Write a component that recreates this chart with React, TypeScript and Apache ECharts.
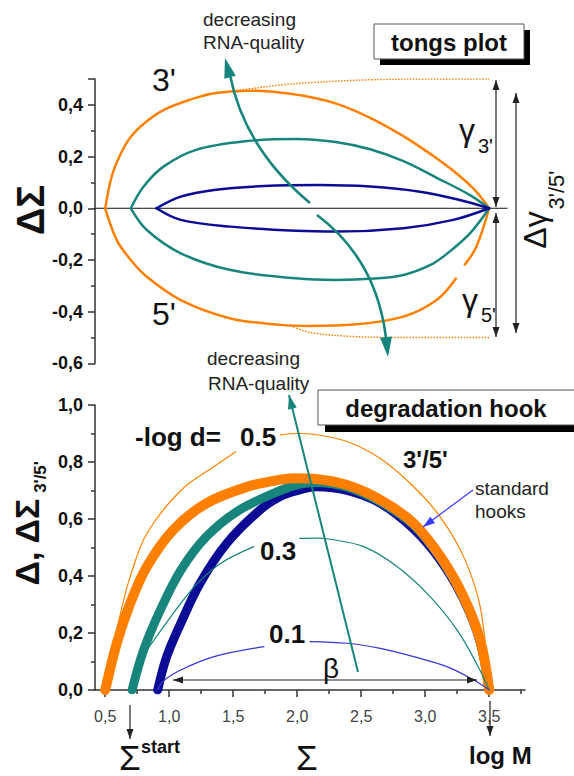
import React, { useEffect, useRef } from 'react';
import * as echarts from 'echarts';

const FONT = '"Liberation Sans", Arial, sans-serif';
const ORANGE = '#FF8000';
const TEAL = '#17857B';
const NAVY = '#0B0B96';
const THINBLUE = '#3535D0';
const INK = '#111';

// ---------- top panel: tongs plot (x = Sigma, y = Delta Sigma) ----------
const tongsOrange3: any[] = [[0.5, 0], [0.55, 0.122], [0.62, 0.21], [0.7, 0.277], [0.82, 0.335], [0.955, 0.38], [1.15, 0.418], [1.35, 0.445], [1.61, 0.455], [1.79, 0.452], [2.05, 0.435], [2.31, 0.404], [2.57, 0.35], [2.83, 0.279], [3.05, 0.207], [3.22, 0.145], [3.38, 0.075], [3.5, 0]];
const tongsOrange5: any[] = [[0.5, 0], [0.59, -0.123], [0.7, -0.2], [0.825, -0.265], [1.09, -0.355], [1.48, -0.426], [1.87, -0.451], [2.1, -0.455], [2.44, -0.45], [2.83, -0.419], [3.09, -0.355], [3.24, -0.272], [3.27, '-'], [3.31, -0.218], [3.4, -0.149], [3.5, 0]];
const tongsOrangeEnv3: any[] = [[1.27, 0.44], [1.6, 0.46], [1.87, 0.477], [2.1, 0.486], [2.57, 0.497], [3.0, 0.5], [3.5, 0.5]];
const tongsOrangeEnv5: any[] = [[1.95, -0.455], [2.1, -0.48], [2.4, -0.495], [2.8, -0.5], [3.5, -0.5]];
const tongsTeal3: any[] = [[0.7, 0], [0.8, 0.084], [0.955, 0.161], [1.21, 0.226], [1.61, 0.26], [1.99, 0.268], [2.3, 0.256], [2.57, 0.228], [2.83, 0.182], [3.09, 0.118], [3.35, 0.051], [3.5, 0]];
const tongsTeal5: any[] = [[0.7, 0], [0.825, -0.084], [1.09, -0.174], [1.48, -0.239], [1.99, -0.271], [2.3, -0.277], [2.6, -0.272], [2.83, -0.258], [3.05, -0.217], [3.17, -0.176], [3.35, -0.097], [3.5, 0]];
const tongsNavy3: any[] = [[0.9, 0], [1.09, 0.045], [1.35, 0.071], [1.74, 0.086], [2.18, 0.09], [2.57, 0.084], [2.96, 0.064], [3.27, 0.032], [3.5, 0]];
const tongsNavy5: any[] = [[0.9, 0], [1.09, -0.045], [1.48, -0.071], [1.99, -0.087], [2.31, -0.09], [2.83, -0.077], [3.22, -0.045], [3.5, 0]];
const zeroLine: any[] = [[0.42, 0], [3.64, 0]];

// ---------- bottom panel: degradation hook ----------
const hookOrange: any[] = [[0.5, 0], [0.59, 0.164], [0.695, 0.304], [0.826, 0.433], [1.03, 0.561], [1.29, 0.655], [1.61, 0.713], [1.87, 0.738], [2.0, 0.743], [2.13, 0.741], [2.39, 0.719], [2.65, 0.667], [2.91, 0.585], [3.12, 0.468], [3.3, 0.327], [3.43, 0.175], [3.5, 0]];
const hookTeal: any[] = [[0.71, 0], [0.8, 0.14], [0.93, 0.28], [1.09, 0.42], [1.29, 0.538], [1.55, 0.632], [1.87, 0.7], [2.02, 0.722], [2.13, 0.728], [2.39, 0.712], [2.65, 0.66], [2.91, 0.578], [3.12, 0.462], [3.3, 0.322], [3.43, 0.172], [3.5, 0]];
const hookNavy: any[] = [[0.91, 0], [0.98, 0.117], [1.09, 0.234], [1.24, 0.374], [1.45, 0.515], [1.71, 0.632], [1.87, 0.68], [2.02, 0.702], [2.15, 0.713], [2.39, 0.7], [2.65, 0.655], [2.91, 0.565], [3.12, 0.455], [3.3, 0.318], [3.43, 0.168], [3.5, 0]];
const logD05: any[] = [[0.5, 0], [0.55, 0.13], [0.62, 0.27], [0.695, 0.398], [0.826, 0.55], [1.09, 0.7], [1.35, 0.784], [1.52, 0.836], [1.7, '-'], [1.87, 0.895], [2.0, 0.9], [2.13, 0.897], [2.39, 0.872], [2.65, 0.812], [2.91, 0.713], [3.12, 0.606], [3.3, 0.468], [3.43, 0.292], [3.5, 0]];
const logD03: any[] = [[0.7, 0], [0.8, 0.12], [0.9, 0.187], [1.09, 0.304], [1.22, 0.374], [1.4, 0.444], [1.66, 0.503], [1.85, '-'], [2.02, 0.532], [2.14, 0.533], [2.26, 0.529], [2.52, 0.503], [2.78, 0.433], [3.04, 0.327], [3.25, 0.21], [3.4, 0.094], [3.5, 0]];
const logD01: any[] = [[0.91, 0], [0.95, 0.03], [1.09, 0.07], [1.35, 0.117], [1.74, 0.152], [1.9, '-'], [2.1, 0.17], [2.39, 0.164], [2.65, 0.146], [2.91, 0.117], [3.17, 0.082], [3.38, 0.035], [3.5, 0]];

const xMajor = [0.5, 1.0, 1.5, 2.0, 2.5, 3.0, 3.5];
const xMinor = [0.75, 1.25, 1.75, 2.25, 2.75, 3.25, 3.75];

const comma = (v: number) => {
  const t = Math.abs(v) < 1e-9 ? 0 : v;
  return t.toFixed(1).replace('.', ',');
};

function line(data: any[], gi: number, color: string, width: number, extra: any = {}) {
  return {
    type: 'line', xAxisIndex: gi === 0 ? 0 : 1, yAxisIndex: gi, data,
    symbol: 'none', showSymbol: false, smooth: 0.35, silent: true, connectNulls: false,
    lineStyle: { color, width, cap: 'round', join: 'round' }, z: 3, ...extra,
  };
}

function txt(text: string, x: number, y: number, size: number, opts: any = {}) {
  return {
    type: 'text', x, y, z: 120, rotation: opts.rotation || 0, silent: true,
    style: {
      text, fill: opts.fill || INK,
      font: `${opts.bold ? 'bold ' : ''}${size}px ${FONT}`,
      align: opts.align || 'left', verticalAlign: 'middle',
      textAlign: opts.align || 'left', textVerticalAlign: 'middle',
    },
  };
}

function seg(x1: number, y1: number, x2: number, y2: number, color: string, w: number) {
  return { type: 'line', z: 110, silent: true, shape: { x1, y1, x2, y2 }, style: { stroke: color, lineWidth: w } };
}

function head(tx: number, ty: number, fx: number, fy: number, len: number, hw: number, color: string) {
  const dx = tx - fx, dy = ty - fy;
  const L = Math.sqrt(dx * dx + dy * dy);
  const ux = dx / L, uy = dy / L;
  const bx = tx - ux * len, by = ty - uy * len;
  const px = -uy, py = ux;
  return {
    type: 'polygon', z: 111, silent: true,
    shape: { points: [[tx, ty], [bx + px * hw, by + py * hw], [bx - px * hw, by - py * hw]] },
    style: { fill: color },
  };
}

function dblArrow(x1: number, y1: number, x2: number, y2: number, color = '#222') {
  return [seg(x1, y1, x2, y2, color, 1.2), head(x1, y1, x2, y2, 10, 3.5, color), head(x2, y2, x1, y1, 10, 3.5, color)];
}

function arrow(x1: number, y1: number, x2: number, y2: number, color: string, w: number, len: number, hw: number) {
  return [seg(x1, y1, x2, y2, color, w), head(x2, y2, x1, y1, len, hw, color)];
}

const graphics: any[] = [
  // boxes
  { type: 'rect', z: 100, silent: true, shape: { x: 380, y: 30, width: 150, height: 35 }, style: { fill: '#000' } },
  { type: 'rect', z: 101, silent: true, shape: { x: 374, y: 24, width: 150, height: 35 }, style: { fill: '#fff', stroke: '#555', lineWidth: 1 } },
  txt('tongs plot', 449, 42, 24, { bold: true, align: 'center' }),
  { type: 'rect', z: 100, silent: true, shape: { x: 325, y: 397, width: 260, height: 35 }, style: { fill: '#000' } },
  { type: 'rect', z: 101, silent: true, shape: { x: 318, y: 390, width: 270, height: 35 }, style: { fill: '#fff', stroke: '#555', lineWidth: 1 } },
  txt('degradation hook', 446, 408, 24, { bold: true, align: 'center' }),

  // top panel texts
  txt('decreasing', 203, 19, 19, { fill: '#222' }),
  txt('RNA-quality', 203, 42, 19, { fill: '#222' }),
  txt('decreasing', 207, 358, 19, { fill: '#222' }),
  txt('RNA-quality', 208, 383, 19, { fill: '#222' }),
  txt("3'", 152, 80, 32),
  txt("5'", 152, 314, 32),
  txt('γ', 459, 130, 32),
  txt("3'", 478, 146, 20),
  txt('γ', 462, 300, 32),
  txt("5'", 481, 315, 20),
  txt('Δγ', 535, 230, 32, { align: 'center', rotation: Math.PI / 2 }),
  txt("3'/5'", 556, 190, 22, { align: 'center', rotation: Math.PI / 2 }),
  txt('ΔΣ', 31, 210, 38, { bold: true, align: 'center', rotation: Math.PI / 2 }),

  // top panel arrows
  ...dblArrow(496, 80, 496, 207),
  ...dblArrow(496, 213, 496, 337),
  ...dblArrow(516, 93, 516, 333),
  { type: 'bezierCurve', z: 110, silent: true, shape: { x1: 310, y1: 203, x2: 230, y2: 75, cpx1: 244.5, cpy1: 148.5 }, style: { stroke: TEAL, lineWidth: 2.6, fill: 'none' } },
  head(225, 58, 230, 77, 20, 6, TEAL),
  { type: 'bezierCurve', z: 110, silent: true, shape: { x1: 317, y1: 215, x2: 386, y2: 338, cpx1: 376.5, cpy1: 259.5 }, style: { stroke: TEAL, lineWidth: 2.6, fill: 'none' } },
  head(388, 357, 386, 337, 20, 6, TEAL),

  // bottom panel texts
  txt('-log d=', 135, 437, 26, { bold: true }),
  txt('0.5', 240, 437, 26, { bold: true }),
  txt("3'/5'", 403, 459, 24, { bold: true }),
  txt('standard', 475, 488, 19, { fill: '#222' }),
  txt('hooks', 475, 511, 19, { fill: '#222' }),
  txt('0.3', 260, 551, 26, { bold: true }),
  txt('0.1', 269, 634, 26, { bold: true }),
  txt('β', 323, 668, 28),
  txt('Σ', 119, 757, 35),
  txt('start', 141, 747, 18, { bold: true }),
  txt('Σ', 296, 757, 35),
  txt('log M', 469, 755, 24, { bold: true }),
  txt('Δ, ΔΣ', 27, 542, 34, { bold: true, align: 'center', rotation: Math.PI / 2 }),
  txt("3'/5'", 40, 477, 17, { bold: true, align: 'center', rotation: Math.PI / 2 }),

  // bottom panel arrows
  ...dblArrow(173, 680, 477, 680),
  ...arrow(130, 705, 130, 739, '#222', 1.2, 10, 3.5),
  ...arrow(490, 701, 490, 736, '#222', 1.2, 10, 3.5),
  ...arrow(473, 490, 423, 527, '#3a3aff', 1.2, 12, 4),
  ...arrow(358, 672, 289, 395, TEAL, 2, 14, 4.5),
];

const axisLineStyle = { color: '#333', width: 1.5 };

const option: any = {
  animation: false,
  backgroundColor: '#fff',
  grid: [
    { left: 95, top: 79, width: 430, height: 284.4 },
    { left: 95, top: 405, width: 430, height: 285 },
  ],
  xAxis: [
    { gridIndex: 0, type: 'value', min: 0.42, max: 3.78, show: false },
    {
      gridIndex: 1, type: 'value', min: 0.42, max: 3.78, position: 'bottom',
      axisLine: { show: true, onZero: false, lineStyle: axisLineStyle },
      splitLine: { show: false },
      axisTick: { show: true, customValues: xMajor, length: 7, lineStyle: axisLineStyle },
      axisLabel: { customValues: xMajor, formatter: (v: number) => comma(v), margin: 18, fontSize: 16, color: '#444', fontFamily: FONT },
    },
    {
      gridIndex: 1, type: 'value', min: 0.42, max: 3.78, position: 'bottom',
      axisLine: { show: false }, splitLine: { show: false }, axisLabel: { show: false },
      axisTick: { show: true, customValues: xMinor, length: 4, lineStyle: axisLineStyle },
    },
  ],
  yAxis: [
    {
      gridIndex: 0, type: 'value', min: -0.6, max: 0.5, interval: 0.2,
      axisLine: { show: true, onZero: false, lineStyle: axisLineStyle },
      splitLine: { show: false },
      axisTick: { show: true, length: 7, lineStyle: axisLineStyle },
      minorTick: { show: true, splitNumber: 2, length: 4, lineStyle: axisLineStyle },
      axisLabel: { formatter: (v: number) => (Math.abs(v - 0.5) < 1e-6 ? '' : comma(v)), margin: 12, fontSize: 18, fontWeight: 'bold', color: INK, fontFamily: FONT },
    },
    {
      gridIndex: 1, type: 'value', min: 0, max: 1, interval: 0.2,
      axisLine: { show: true, onZero: false, lineStyle: axisLineStyle },
      splitLine: { show: false },
      axisTick: { show: true, length: 7, lineStyle: axisLineStyle },
      minorTick: { show: true, splitNumber: 2, length: 4, lineStyle: axisLineStyle },
      axisLabel: { formatter: (v: number) => comma(v), margin: 12, fontSize: 18, fontWeight: 'bold', color: INK, fontFamily: FONT },
    },
  ],
  series: [
    line(zeroLine, 0, '#111', 1, { smooth: false, z: 1 }),
    line(tongsOrangeEnv3, 0, ORANGE, 1.5, { lineStyle: { color: ORANGE, width: 1.5, type: 'dotted' } }),
    line(tongsOrangeEnv5, 0, ORANGE, 1.5, { lineStyle: { color: ORANGE, width: 1.5, type: 'dotted' } }),
    line(tongsOrange3, 0, ORANGE, 2.5),
    line(tongsOrange5, 0, ORANGE, 2.5),
    line(tongsTeal3, 0, TEAL, 2.5),
    line(tongsTeal5, 0, TEAL, 2.5),
    line(tongsNavy3, 0, NAVY, 2.5),
    line(tongsNavy5, 0, NAVY, 2.5),

    line(hookNavy, 1, NAVY, 9, { z: 3 }),
    line(hookTeal, 1, TEAL, 9, { z: 4 }),
    line(hookOrange, 1, ORANGE, 10, { z: 5 }),
    line(logD05, 1, ORANGE, 1.2, { z: 6 }),
    line(logD03, 1, TEAL, 1.2, { z: 6 }),
    line(logD01, 1, THINBLUE, 1.2, { z: 6 }),
  ],
  graphic: { elements: graphics },
};

export default function App() {
  const ref = useRef<HTMLDivElement>(null);
  useEffect(() => {
    const chart = echarts.init(ref.current!, null, { renderer: 'svg' });
    chart.setOption(option);
    return () => chart.dispose();
  }, []);
  return (
    <div
      ref={ref}
      style={{ position: 'fixed', left: 0, top: 0, width: 574, height: 776, background: '#fff' }}
    />
  );
}
